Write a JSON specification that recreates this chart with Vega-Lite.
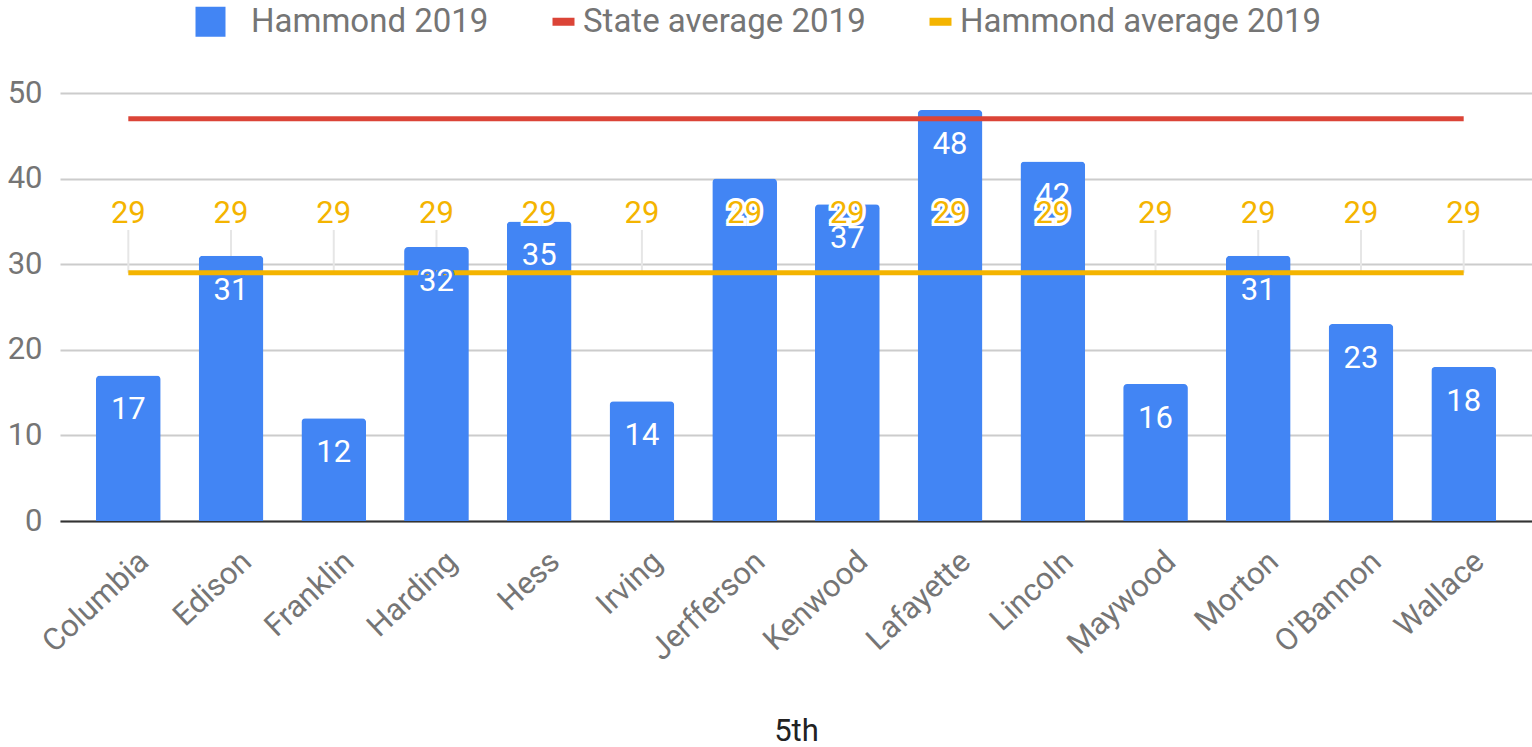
{
  "$schema": "https://vega.github.io/schema/vega-lite/v6.json",
  "width": 1472,
  "height": 428,
  "autosize": {"type": "none"},
  "padding": {"left": 60, "top": 93, "right": 0, "bottom": 226},
  "background": "white",
  "config": {"font": "Roboto", "view": {"stroke": null}},
  "data": {"values": [
    {"school": "Columbia", "score": 17, "state": 47, "avg": 29},
    {"school": "Edison", "score": 31, "state": 47, "avg": 29},
    {"school": "Franklin", "score": 12, "state": 47, "avg": 29},
    {"school": "Harding", "score": 32, "state": 47, "avg": 29},
    {"school": "Hess", "score": 35, "state": 47, "avg": 29},
    {"school": "Irving", "score": 14, "state": 47, "avg": 29},
    {"school": "Jerfferson", "score": 40, "state": 47, "avg": 29},
    {"school": "Kenwood", "score": 37, "state": 47, "avg": 29},
    {"school": "Lafayette", "score": 48, "state": 47, "avg": 29},
    {"school": "Lincoln", "score": 42, "state": 47, "avg": 29},
    {"school": "Maywood", "score": 16, "state": 47, "avg": 29},
    {"school": "Morton", "score": 31, "state": 47, "avg": 29},
    {"school": "O'Bannon", "score": 23, "state": 47, "avg": 29},
    {"school": "Wallace", "score": 18, "state": 47, "avg": 29}
  ]},
  "encoding": {
    "x": {
      "field": "school", "type": "nominal", "sort": null,
      "scale": {"paddingInner": 0.37, "paddingOuter": 0.35},
      "axis": {
        "title": "5th", "labelAngle": -43, "labelAlign": "right", "labelBaseline": "middle",
        "labelFontSize": 31, "labelColor": "#757575", "labelPadding": 36, "labelOffset": 16,
        "ticks": false, "domainColor": "#333333", "domainWidth": 2, "grid": false,
        "titleFontSize": 31, "titleColor": "#222222", "titleFontWeight": "normal",
        "titleY": 219, "titleBaseline": "alphabetic"
      }
    }
  },
  "layer": [
    {
      "mark": {"type": "rule", "color": "#e6e6e6", "strokeWidth": 2},
      "encoding": {
        "y": {"field": "avg", "type": "quantitative", "title": null},
        "y2": {"datum": 34}
      }
    },
    {
      "mark": {"type": "bar", "cornerRadiusEnd": 4},
      "encoding": {
        "y": {
          "field": "score", "type": "quantitative", "title": null,
          "scale": {"domain": [0, 50]},
          "axis": {
            "values": [0, 10, 20, 30, 40, 50], "domain": false, "ticks": false,
            "labelFontSize": 31, "labelColor": "#757575", "labelPadding": 18,
            "gridColor": "#cccccc", "gridWidth": 2
          }
        },
        "color": {
          "datum": "Hammond 2019",
          "scale": {
            "domain": ["Hammond 2019", "State average 2019", "Hammond average 2019"],
            "range": ["#4285F4", "#DB4437", "#F4B400"]
          },
          "legend": {
            "orient": "none", "legendX": 134, "legendY": -88, "direction": "horizontal",
            "title": null, "labelFontSize": 33, "labelColor": "#757575", "labelFont": "Roboto",
            "labelLimit": 600, "symbolSize": 900, "labelOffset": 24, "columnPadding": 37, "padding": 0,
            "encode": {
              "symbols": {
                "update": {
                  "shape": {"signal": "datum.value === 'Hammond 2019' ? 'M-1,-1H1V1H-1Z' : 'M0.667,-0.267H2.133V0.267H0.667Z'"},
                  "fill": {"signal": "datum.value === 'Hammond 2019' ? '#4285F4' : datum.value === 'State average 2019' ? '#DB4437' : '#F4B400'"},
                  "stroke": {"value": "transparent"},
                  "strokeWidth": {"value": 0},
                  "opacity": {"value": 1}
                }
              }
            }
          }
        }
      }
    },
    {
      "mark": {"type": "line", "strokeWidth": 5},
      "encoding": {
        "y": {"field": "state", "type": "quantitative", "title": null},
        "color": {"datum": "State average 2019"}
      }
    },
    {
      "mark": {"type": "line", "strokeWidth": 5},
      "encoding": {
        "y": {"field": "avg", "type": "quantitative", "title": null},
        "color": {"datum": "Hammond average 2019"}
      }
    },
    {
      "mark": {"type": "text", "fontSize": 31, "baseline": "alphabetic", "dy": 44, "fill": "#4285F4", "stroke": "#4285F4", "strokeWidth": 5},
      "encoding": {
        "y": {"field": "score", "type": "quantitative", "title": null},
        "text": {"field": "score", "type": "quantitative"}
      }
    },
    {
      "mark": {"type": "text", "fontSize": 31, "baseline": "alphabetic", "dy": 44, "fill": "white"},
      "encoding": {
        "y": {"field": "score", "type": "quantitative", "title": null},
        "text": {"field": "score", "type": "quantitative"}
      }
    },
    {
      "mark": {"type": "text", "fontSize": 31, "baseline": "alphabetic", "dy": -50, "fill": "white", "stroke": "white", "strokeWidth": 6},
      "encoding": {
        "y": {"field": "avg", "type": "quantitative", "title": null},
        "text": {"field": "avg", "type": "quantitative"}
      }
    },
    {
      "mark": {"type": "text", "fontSize": 31, "baseline": "alphabetic", "dy": -50, "fill": "#F4B400"},
      "encoding": {
        "y": {"field": "avg", "type": "quantitative", "title": null},
        "text": {"field": "avg", "type": "quantitative"}
      }
    }
  ]
}
